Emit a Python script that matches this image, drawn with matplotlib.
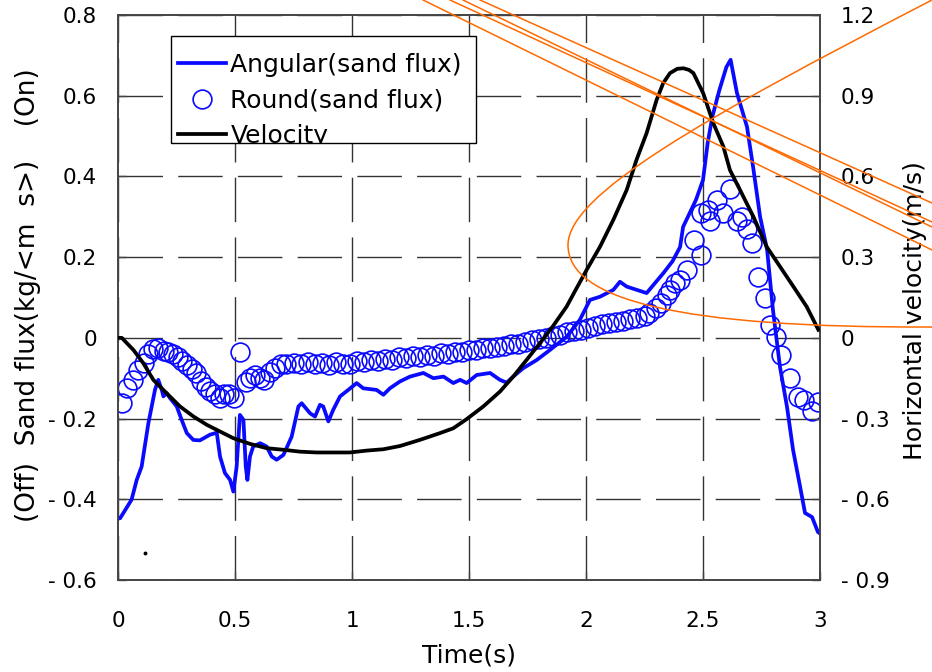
import numpy as np
import matplotlib
matplotlib.use('Agg')
import matplotlib.pyplot as plt
from matplotlib.path import Path
from matplotlib.patches import PathPatch, Rectangle
from matplotlib.transforms import Affine2D, Bbox, TransformedBbox
from matplotlib.lines import Line2D

plt.rcParams['font.family'] = ['DejaVu Sans']

# ---------------- data ----------------
# Angular (sand flux), kg/(m s)
t_ang = [0.00, 0.009, 0.058, 0.080, 0.101, 0.130, 0.158, 0.172, 0.187, 0.194, 0.208, 0.222,
         0.251, 0.272, 0.294, 0.322, 0.350, 0.393, 0.422, 0.436, 0.457, 0.479, 0.493,
         0.507, 0.521, 0.536, 0.546, 0.553, 0.564, 0.578, 0.607, 0.635, 0.657, 0.678,
         0.707, 0.742, 0.771, 0.785, 0.821, 0.842, 0.863, 0.877, 0.899, 0.920, 0.949,
         0.984, 1.020, 1.048, 1.105, 1.134, 1.162, 1.205, 1.248, 1.305, 1.348, 1.391,
         1.433, 1.462, 1.490, 1.533, 1.590, 1.632, 1.661, 1.689, 1.732, 1.789, 1.846,
         1.918, 1.974, 2.017, 2.060, 2.117, 2.145, 2.174, 2.259, 2.330, 2.370, 2.402,
         2.415, 2.470, 2.500, 2.520, 2.540, 2.570, 2.600, 2.618, 2.645, 2.688, 2.714,
         2.744, 2.774, 2.799, 2.829, 2.859, 2.885, 2.915, 2.936, 2.966, 2.991, 3.000]
sf_ang = [-0.447, -0.447, -0.401, -0.352, -0.319, -0.211, -0.129, -0.104, -0.129, -0.145, -0.137, -0.149,
          -0.170, -0.203, -0.236, -0.253, -0.254, -0.240, -0.235, -0.294, -0.335, -0.352, -0.381,
          -0.319, -0.191, -0.203, -0.319, -0.352, -0.294, -0.269, -0.261, -0.269, -0.294, -0.302,
          -0.290, -0.245, -0.170, -0.162, -0.187, -0.195, -0.166, -0.170, -0.207, -0.178, -0.145,
          -0.129, -0.112, -0.125, -0.129, -0.141, -0.125, -0.108, -0.096, -0.087, -0.100, -0.096,
          -0.112, -0.104, -0.112, -0.092, -0.087, -0.104, -0.111, -0.096, -0.075, -0.055, -0.030,
          0.003, 0.045, 0.094, 0.102, 0.119, 0.139, 0.127, 0.111, 0.160, 0.190, 0.225,
          0.275, 0.342, 0.391, 0.483, 0.548, 0.614, 0.671, 0.689, 0.607, 0.523, 0.424,
          0.300, 0.218, 0.069, -0.072, -0.171, -0.278, -0.369, -0.434, -0.444, -0.481, -0.485]

# Round (sand flux), kg/(m s)
t_round = [0.015, 0.040, 0.065, 0.085, 0.110, 0.130, 0.150, 0.170, 0.195, 0.215, 0.235, 0.255,
           0.275, 0.295, 0.315, 0.335, 0.355, 0.375, 0.395, 0.415, 0.435, 0.455, 0.475, 0.495,
           0.520, 0.545, 0.565, 0.585, 0.605, 0.625, 0.650, 0.670, 0.695,
           0.72, 0.75, 0.78, 0.81, 0.84, 0.87, 0.90, 0.93, 0.96, 0.99, 1.02, 1.05, 1.08, 1.11,
           1.14, 1.17, 1.20, 1.23, 1.26, 1.29, 1.32, 1.35, 1.38, 1.41, 1.44, 1.47, 1.50, 1.53,
           1.56, 1.59, 1.62, 1.65, 1.68, 1.71, 1.74, 1.77, 1.80, 1.83, 1.86, 1.89, 1.92, 1.95,
           1.98, 2.01, 2.04, 2.07, 2.10, 2.13, 2.16, 2.19, 2.22, 2.25, 2.27, 2.30, 2.32, 2.345,
           2.36, 2.38, 2.40, 2.43, 2.46, 2.49, 2.49, 2.52, 2.53, 2.56, 2.585, 2.615, 2.645,
           2.665, 2.69, 2.71, 2.735, 2.765, 2.785, 2.81, 2.835, 2.87, 2.905, 2.93, 2.965, 2.99]
sf_round = [-0.161, -0.125, -0.104, -0.080, -0.062, -0.040, -0.028, -0.025, -0.033, -0.036, -0.040, -0.047,
            -0.058, -0.068, -0.078, -0.086, -0.108, -0.122, -0.132, -0.140, -0.150, -0.140, -0.140, -0.148,
            -0.035, -0.110, -0.100, -0.092, -0.100, -0.104, -0.085, -0.075, -0.066,
            -0.066, -0.062, -0.066, -0.060, -0.066, -0.062, -0.068, -0.060, -0.064, -0.066, -0.058, -0.060,
            -0.054, -0.058, -0.052, -0.056, -0.048, -0.050, -0.046, -0.048, -0.042, -0.044, -0.038, -0.040,
            -0.034, -0.036, -0.030, -0.030, -0.026, -0.024, -0.022, -0.020, -0.016, -0.014, -0.010, -0.006,
            -0.004, 0.000, 0.004, 0.008, 0.014, 0.016, 0.020, 0.024, 0.030, 0.034, 0.036, 0.040, 0.042,
            0.046, 0.048, 0.054, 0.062, 0.075, 0.087, 0.105, 0.119, 0.135, 0.144, 0.168, 0.243, 0.206,
            0.310, 0.317, 0.290, 0.342, 0.310, 0.370, 0.290, 0.300, 0.270, 0.235, 0.152, 0.100, 0.032,
            0.003, -0.042, -0.100, -0.146, -0.154, -0.180, -0.160]

# Velocity, m/s (right axis)
t_vel = [0.000, 0.016, 0.066, 0.108, 0.151, 0.208, 0.265, 0.322, 0.379, 0.436, 0.493, 0.564,
         0.635, 0.707, 0.778, 0.849, 0.991, 1.063, 1.134, 1.205, 1.291, 1.376, 1.433, 1.490,
         1.561, 1.632, 1.689, 1.746, 1.803, 1.860, 1.917, 1.960, 2.003, 2.060, 2.117, 2.174,
         2.216, 2.259, 2.302, 2.330, 2.359, 2.390, 2.416, 2.440, 2.459, 2.501, 2.544, 2.587,
         2.615, 2.658, 2.715, 2.772, 2.829, 2.886, 2.943, 2.993]
vel = [0.000, 0.000, -0.045, -0.094, -0.156, -0.206, -0.255, -0.292, -0.323, -0.348, -0.373, -0.394,
       -0.410, -0.416, -0.423, -0.426, -0.426, -0.419, -0.414, -0.402, -0.379, -0.354, -0.336, -0.302,
       -0.255, -0.200, -0.144, -0.082, -0.020, 0.045, 0.116, 0.185, 0.253, 0.339, 0.439, 0.550,
       0.662, 0.761, 0.885, 0.947, 0.984, 1.000, 1.002, 0.996, 0.984, 0.909, 0.798, 0.711,
       0.624, 0.550, 0.451, 0.339, 0.265, 0.191, 0.116, 0.030]

x_ticks = [0, 0.5, 1, 1.5, 2, 2.5, 3]
x_tick_labels = ['0', '0.5', '1', '1.5', '2', '2.5', '3']
sf_ticks = [0.8, 0.6, 0.4, 0.2, 0, -0.2, -0.4, -0.6]
sf_tick_labels = ['0.8', '0.6', '0.4', '0.2', '0', '- 0.2', '- 0.4', '- 0.6']
vel_ticks = [1.2, 0.9, 0.6, 0.3, 0, -0.3, -0.6, -0.9]
vel_tick_labels = ['1.2', '0.9', '0.6', '0.3', '0', '- 0.3', '- 0.6', '- 0.9']

# ---------------- figure ----------------
W, H = 932, 672
fig = plt.figure(figsize=(W / 100, H / 100), dpi=100)
ax = fig.add_axes([118 / W, 1 - 580 / H, 702 / W, 565 / H])
px = Affine2D().scale(1 / W, -1 / H).translate(0, 1) + fig.transFigure

blue = '#0a0aff'
ax.plot(t_ang, sf_ang, color=blue, lw=2.7, label='Angular(sand flux)', zorder=3,
        solid_joinstyle='round')
ax.plot(t_round, sf_round, ls='none', marker='o', ms=13.5, mfc='none', mec=blue,
        mew=1.2, label='Round(sand flux)', zorder=3)
ax.set_xlim(0, 3)
ax.set_ylim(-0.6, 0.8)

ax2 = ax.twinx()
ax2.plot(t_vel, vel, color='black', lw=2.7, label='Velocity', zorder=3,
         solid_joinstyle='round')
ax2.set_ylim(-0.9, 1.2)

ax.set_xticks(x_ticks)
ax.set_xticklabels(x_tick_labels)
ax.set_yticks(sf_ticks)
ax.set_yticklabels(sf_tick_labels)
ax2.set_yticks(vel_ticks)
ax2.set_yticklabels(vel_tick_labels)

spine_c = '#444444'
for a in (ax, ax2):
    for s in a.spines.values():
        s.set_color(spine_c)
        s.set_linewidth(1.2)
ax.tick_params(axis='x', direction='in', length=6, width=1, color=spine_c,
               pad=22, labelsize=15.5)
ax.tick_params(axis='y', direction='in', length=6, width=1, color=spine_c,
               pad=15, labelsize=15.5)
ax2.tick_params(axis='y', direction='in', length=6, width=1, color=spine_c,
                pad=15, labelsize=15.5)

ax.grid(True, color='#333333', lw=1.0, ls=(0, (32, 11)))
ax.set_axisbelow(True)

ax.set_xlabel('Time(s)', fontsize=18)
ax.xaxis.set_label_coords(0.5, -0.112)
ax.set_ylabel('(Off)  Sand flux(kg/<m  s>)    (On)', fontsize=19, va='center')
ax.yaxis.set_label_coords(-0.128, 0.505)
ax2.set_ylabel('Horizontal velocity(m/s)', fontsize=18, va='center', rotation=90)
ax2.yaxis.set_label_coords(1.135, 0.476)

# legend (box slightly clipping the last row, as in the source)
h1, l1 = ax.get_legend_handles_labels()
h2, l2 = ax2.get_legend_handles_labels()
leg_box = Rectangle((171, 143), 305, -107, transform=px, facecolor='white',
                    edgecolor='black', lw=1.0, zorder=6)
ax2.add_artist(leg_box)
leg = ax2.legend(h1 + h2, l1 + l2, loc='upper left', bbox_to_anchor=(168, 43),
                 bbox_transform=px, frameon=False, fontsize=18, handlelength=1.9,
                 handletextpad=0.2, labelspacing=0.45, borderpad=0.4,
                 borderaxespad=0)
leg.set_zorder(7)
clip = TransformedBbox(Bbox.from_extents(171, 37, 476, 142.5), px)
for txt in leg.get_texts():
    txt.set_clip_box(clip)
    txt.set_clip_on(True)

# stray orange annotation strokes present on the source image
orange = '#ff6a00'
seg_x0 = [423, 450, 463, 480]
seg_y1 = [250, 222, 227, 203]
for x0, y1 in zip(seg_x0, seg_y1):
    fig.add_artist(Line2D([x0, 932], [0, y1], transform=px, color=orange, lw=1.1, zorder=10))
verts = [(932, 0), (700, 120), (568, 195), (568, 245),
         (568, 300), (680, 328), (932, 327)]
codes = [Path.MOVETO, Path.CURVE4, Path.CURVE4, Path.CURVE4,
         Path.CURVE4, Path.CURVE4, Path.CURVE4]
fig.add_artist(PathPatch(Path(verts, codes), transform=px, facecolor='none',
                         edgecolor=orange, lw=1.1, zorder=10))
fig.add_artist(Line2D([145], [553], transform=px, marker='o', ms=1.8, color='black', ls='none'))

fig.savefig('out.png', dpi=100)
